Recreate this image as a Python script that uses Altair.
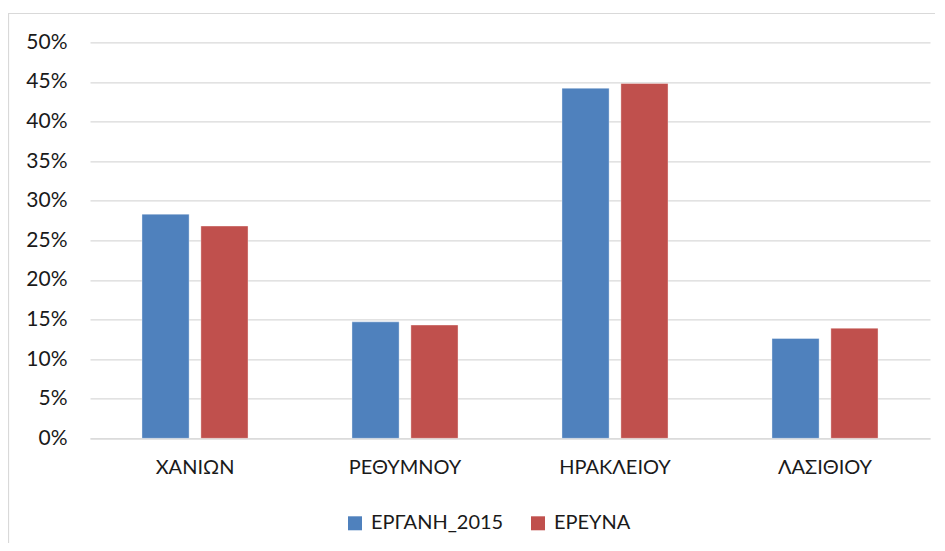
import altair as alt
import pandas as pd

categories = ["ΧΑΝΙΩΝ", "ΡΕΘΥΜΝΟΥ", "ΗΡΑΚΛΕΙΟΥ", "ΛΑΣΙΘΙΟΥ"]
series_names = ["ΕΡΓΑΝΗ_2015", "ΕΡΕΥΝΑ"]
ergani_2015 = [0.283, 0.147, 0.442, 0.126]
erevna = [0.268, 0.143, 0.448, 0.139]
y_ticks = [0, 0.05, 0.10, 0.15, 0.20, 0.25, 0.30, 0.35, 0.40, 0.45, 0.50]
colors = ["#4F81BD", "#C0504D"]

rows = []
for c, a, b in zip(categories, ergani_2015, erevna):
    rows.append({"region": c, "series": series_names[0], "value": a})
    rows.append({"region": c, "series": series_names[1], "value": b})
df = pd.DataFrame(rows)

FONT = "Lato"

bars = alt.Chart(df).mark_bar(stroke="#ffffff", strokeWidth=0.6, strokeOpacity=0.6).encode(
    x=alt.X("region:N", sort=categories, title=None,
            scale=alt.Scale(paddingInner=0.495, paddingOuter=0.2475),
            axis=alt.Axis(labelAngle=0, labelFontSize=20, labelPadding=19, ticks=False,
                          domain=True, domainColor="#d9d9d9", domainWidth=1.3,
                          labelColor="#1a1a1a", labelFont=FONT)),
    xOffset=alt.XOffset("series:N", sort=series_names,
                        scale=alt.Scale(paddingInner=0.2, paddingOuter=0)),
    y=alt.Y("value:Q", title=None,
            scale=alt.Scale(domain=[0, 0.5], nice=False),
            axis=alt.Axis(values=y_ticks, format=".0%", labelFontSize=21, labelPadding=23,
                          ticks=False, domain=False, gridColor="#d9d9d9", gridWidth=1.3,
                          labelColor="#1a1a1a", labelFont=FONT)),
    color=alt.Color("series:N", sort=series_names,
                    scale=alt.Scale(domain=series_names, range=colors),
                    legend=alt.Legend(title=None, orient="none", direction="horizontal",
                                      legendX=255, legendY=471, symbolType="square",
                                      symbolSize=196, symbolStrokeWidth=0, labelFontSize=20,
                                      labelFont=FONT, labelColor="#1a1a1a", labelOffset=6,
                                      columnPadding=24)),
)

frame = alt.Chart(pd.DataFrame({"k": [0]})).mark_rect(
    fill=None, stroke="#d9d9d9", strokeWidth=1.2
).encode(
    x=alt.value(-81.5), x2=alt.value(900), y=alt.value(-28.8), y2=alt.value(600)
)

chart = alt.layer(frame, bars).properties(
    width=840, height=396,
    autosize=alt.AutoSizeParams(type="none"),
    padding={"left": 82, "top": 34.3, "right": 5, "bottom": 105},
).configure_view(stroke=None).configure_axis(grid=True).configure_axisX(grid=False)

chart.save("out.html", embed_options={"renderer": "svg", "actions": False})
